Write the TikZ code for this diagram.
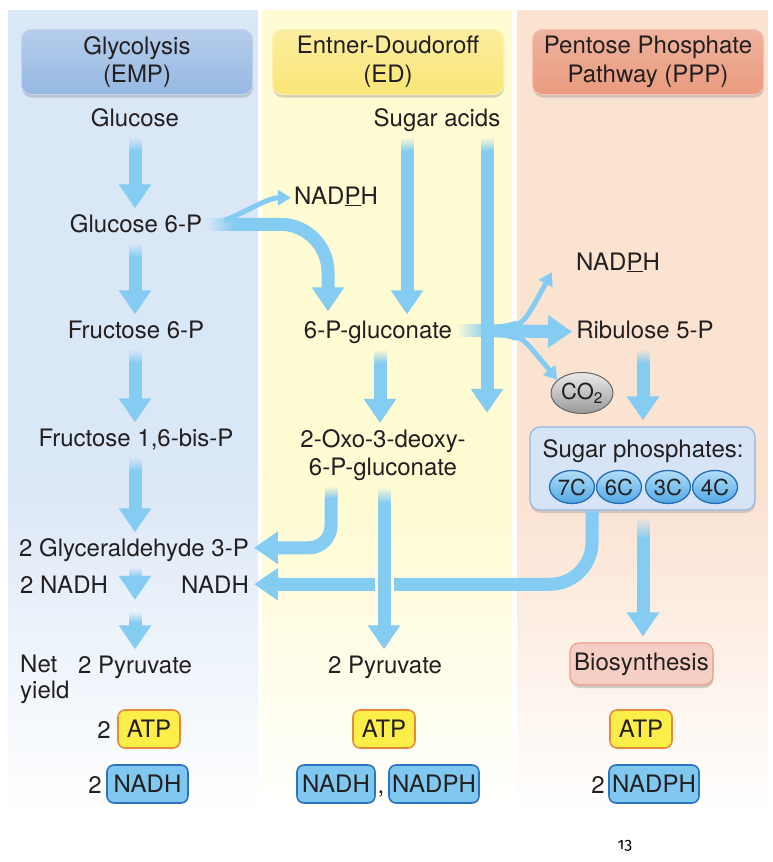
\documentclass[tikz,border=0pt]{standalone}
\usepackage{fontspec}
\setmainfont{TeX Gyre Heros}
\newfontfamily\pgfont[Numbers=OldStyle]{Fira Sans}
\usetikzlibrary{arrows.meta,shadows,calc,fadings,shapes.geometric}
\definecolor{arr}{RGB}{132,204,242}
\definecolor{bluebg}{RGB}{218,231,246}
\definecolor{yelbg}{RGB}{255,251,210}
\definecolor{pchbg}{RGB}{251,227,210}
\definecolor{hblue}{RGB}{150,184,226}
\definecolor{hyel}{RGB}{250,230,118}
\definecolor{hsal}{RGB}{234,154,126}
\definecolor{atpfill}{RGB}{252,238,72}
\definecolor{atpdraw}{RGB}{232,138,58}
\definecolor{nadfill}{RGB}{128,200,240}
\definecolor{naddraw}{RGB}{44,116,190}
\definecolor{spfill}{RGB}{214,228,246}
\definecolor{spdraw}{RGB}{150,182,224}
\definecolor{biofill}{RGB}{245,206,196}
\definecolor{biodraw}{RGB}{232,158,138}
\definecolor{ovaltop}{RGB}{178,222,248}
\definecolor{ovalbot}{RGB}{80,168,228}
\definecolor{ovaldraw}{RGB}{40,108,180}
\definecolor{txt}{RGB}{35,31,32}
\newcommand\fs{\fontsize{24}{28.5}\selectfont}
\newcommand\fsm{\fontsize{22}{26}\selectfont}
\newcommand\colarrow[4][14]{%
  \path ($(#2.south -| #4)+(0,6)$) coordinate (tmpS)
        ($(#3.north -| #4)+(0,-6)$) coordinate (tmpE);
  \fill[arr,path fading=north] ($(tmpS)+(-6.5,0)$) rectangle ($(tmpS)+(6.5,#1)$);
  \draw[bigarrow] ($(tmpS)+(0,#1-0.5)$) -- (tmpE);}
\begin{document}
\begin{tikzpicture}[x=1pt,y=-1pt,
  lbl/.style={font=\fs, text=txt, inner sep=0pt, text height=17.5pt, text depth=5pt, anchor=base},
  lbl2/.style={font=\fs, text=txt, inner sep=0pt, align=center},
  header/.style={font=\fs, text=txt, align=center, rounded corners=10pt, minimum width=231pt,
    minimum height=65pt, inner sep=0pt, line width=1pt,
    drop shadow={opacity=0.35,shadow xshift=0.5pt,shadow yshift=-3pt}},
  atpbox/.style={font=\fs, text=txt, fill=atpfill, draw=atpdraw, line width=1.6pt,
    rounded corners=7pt, minimum height=38pt, minimum width=62pt, inner xsep=2pt,
    text height=17.5pt, text depth=0pt},
  nadbox/.style={font=\fs, text=txt, fill=nadfill, draw=naddraw, line width=1.6pt,
    rounded corners=7pt, minimum height=38pt, inner xsep=2pt,
    text height=17.5pt, text depth=0pt},
  bigarrow/.style={arr, line width=13pt, -{Triangle[width=31pt,length=24pt]}},
  thinarrow/.style={arr, line width=5pt, -{Triangle[width=15pt,length=13pt]}},
  oval/.style={ellipse, draw=ovaldraw, line width=1.3pt, top color=ovaltop, bottom color=ovalbot,
    minimum width=45pt, minimum height=33pt, inner sep=0pt, font=\fsm, text=txt},
  co2/.style={ellipse, draw=black!60, line width=1pt, top color=black!8, bottom color=black!40,
    minimum width=62pt, minimum height=41pt, inner sep=0pt, font=\fsm, text=txt},
  spbox/.style={fill=spfill, draw=spdraw, line width=1.2pt, rounded corners=10pt,
    minimum width=225pt, minimum height=83pt,
    drop shadow={opacity=0.3,shadow xshift=0.5pt,shadow yshift=-3pt}},
  biobox/.style={font=\fs, text=txt, fill=biofill, draw=biodraw, line width=1.2pt,
    rounded corners=9pt, minimum width=143pt, minimum height=42pt, inner sep=0pt,
    text height=17.5pt, text depth=5pt,
    drop shadow={opacity=0.35,shadow xshift=0.5pt,shadow yshift=-3pt}},
]
\useasboundingbox (0,0) rectangle (772,862);
\fill[white] (0,0) rectangle (772,862);
% column backgrounds
\fill[bluebg] (8,10) rectangle (258,470);
\shade[top color=bluebg, bottom color=white] (8,469.5) rectangle (258,812);
\fill[yelbg] (262,10) rectangle (512,500);
\shade[top color=yelbg, bottom color=white] (262,499.5) rectangle (512,812);
\fill[pchbg] (517,10) rectangle (768,500);
\shade[top color=pchbg, bottom color=white] (517,499.5) rectangle (768,812);

% column x coordinates
\coordinate (c1) at (135,0);
\coordinate (c2s) at (407,0);
\coordinate (c2l) at (487,0);
\coordinate (c2m) at (380,0);
\coordinate (c2b) at (384,0);
\coordinate (c2g) at (331,0);
\coordinate (c2c) at (328,0);
\coordinate (c3m) at (643,0);
\coordinate (c3n) at (592,0);

% headers
\node[header, top color=hblue!70!white, bottom color=hblue, draw=hblue!60!white] (h1) at (137,62) {Glycolysis\\(EMP)};
\node[header, top color=hyel!70!white, bottom color=hyel, draw=hyel!60!white] (h2) at (388,62) {Entner-Doudoroff\\(ED)};
\node[header, top color=hsal!75!white, bottom color=hsal, draw=hsal!60!white] (h3) at (648,62) {Pentose Phosphate\\Pathway (PPP)};

% column 1 nodes
\node[lbl] (glc) at (135,126) {Glucose};
\node[lbl] (g6p) at (136,232) {Glucose 6-P};
\node[lbl] (f6p) at (136,338) {Fructose 6-P};
\node[lbl] (f16) at (136,446) {Fructose 1,6-bis-P};
\node[lbl] (g3p) at (134,556) {2 Glyceraldehyde 3-P};
\node[lbl] (nadh2) at (64,593) {2 NADH};
\node[lbl] (nadhL) at (215,593) {NADH};
\node[inner sep=0pt, minimum size=0pt] (mid1) at (135,606) {};
\node[lbl] (pyr1) at (135,673) {2 Pyruvate};
\node[lbl, anchor=base west] (net) at (20,672) {Net};
\node[lbl, anchor=base west] (yield) at (20,698) {yield};

% column 2 nodes
\node[lbl] (sa) at (437,126) {Sugar acids};
\node[lbl] (nadph1) at (336,204) {NAD\underline{P}H};
\node[lbl] (gluc) at (378,338) {6-P-gluconate};
\node[lbl2] (oxo) at (383,455) {2-Oxo-3-deoxy-\\6-P-gluconate};
\node[inner sep=0pt, minimum size=0pt] (sabyp) at (487,419) {};
\node[lbl] (pyr2) at (385,673) {2 Pyruvate};

% column 3 nodes
\node[lbl] (nadph2) at (618,270) {NAD\underline{P}H};
\node[lbl] (rib) at (645,338) {Ribulose 5-P};
\node[co2] (co2) at (582,393) {CO\textsubscript{2}};
\node[spbox] (sp) at (642.5,468.5) {};
\node[lbl] (sptxt) at (643,457) {Sugar phosphates:};
\node[oval] (o7) at (572,487) {7C};
\node[oval] (o6) at (619,487) {6C};
\node[oval] (o3) at (668,487) {3C};
\node[oval] (o4) at (715,487) {4C};
\node[biobox] (bio) at (641.5,664) {Biosynthesis};

% net yield boxes
\node[lbl] (two1) at (104,738) {2};
\node[atpbox] (atp1) at (149,729) {ATP};
\node[lbl] (two2) at (95,793) {2};
\node[nadbox, minimum width=81pt] (nad1) at (147.5,784) {NADH};
\node[atpbox] (atp2) at (384,729) {ATP};
\node[nadbox, minimum width=78pt] (nad2) at (336,784) {NADH};
\node[lbl] (comma) at (381,793) {,};
\node[nadbox, minimum width=90pt] (nadp2) at (434,784) {NADPH};
\node[atpbox] (atp3) at (641,729) {ATP};
\node[lbl] (two3) at (598,793) {2};
\node[nadbox, minimum width=90pt] (nadp3) at (654,784) {NADPH};

\node[font=\pgfont\fontsize{16}{18}\selectfont, text=black, inner sep=0pt] (pg) at (625,846) {13};

% glycolysis arrows
\colarrow{glc}{g6p}{c1}
\colarrow{g6p}{f6p}{c1}
\colarrow{f6p}{f16}{c1}
\colarrow{f16}{g3p}{c1}
\colarrow[10]{g3p}{mid1}{c1}
\colarrow[10]{mid1}{pyr1}{c1}

% glucose 6-P to 6-P-gluconate and NADPH
\path ($(g6p.east)+(4,-1.5)$) coordinate (g6pS);
\fill[arr, path fading=west] ($(g6pS)+(0,-6.5)$) rectangle ($(g6pS)+(28,6.5)$);
\draw[bigarrow, rounded corners=48pt] ($(g6pS)+(27.5,0)$) -| ($(gluc.north -| c2c)+(0,-9)$);
\draw[thinarrow] ($(g6pS)+(18,-4)$) .. controls +(18,-6) and +(-24,0) .. ($(nadph1.west)+(-3,0)$);

% ED arrows
\colarrow{sa}{gluc}{c2s}
\colarrow{gluc}{oxo}{c2m}

% 6-P-gluconate to PPP
\path ($(gluc.east)+(5,-1)$) coordinate (gS);
\fill[arr, path fading=west] ($(gS)+(0,-6.5)$) rectangle ($(gS)+(30,6.5)$);
\draw[bigarrow] ($(gS)+(29.5,0)$) -- ($(rib.west)+(-4,0)$);
\fill[arr] ($(gS)+(40,-6.5)$) .. controls +(10,0) and +(-4,0) .. ($(gS)+(60,-10)$) -- ($(gS)+(60,10)$) .. controls +(-4,0) and +(10,0) .. ($(gS)+(40,6.5)$) -- cycle;
\draw[thinarrow] ($(gS)+(56,-4)$) .. controls +(12,-6) .. ($(nadph2.south west)+(-24,-3)$);
\draw[thinarrow] ($(gS)+(56,4)$) .. controls +(12,6) .. (co2.152);

\colarrow{sa}{sabyp}{c2l}

% oxo to glyceraldehyde 3-P
\path ($(oxo.south -| c2g)+(0,5)$) coordinate (oS);
\fill[arr, path fading=north] ($(oS)+(-6.5,0)$) rectangle ($(oS)+(6.5,12)$);
\draw[bigarrow, rounded corners=22pt] ($(oS)+(0,11.5)$) |- ($(g3p.east)+(5,-2)$);

% sugar phosphates to NADH
\draw[bigarrow, rounded corners=42pt] (sp.south -| c3n) |- ($(nadhL.east)+(5,-2.5)$);
\fill[yelbg!70!white] (374.5,576) rectangle (393.5,592.5);
\colarrow[16]{oxo}{pyr2}{c2b}

% PPP arrows
\colarrow{rib}{sp}{c3m}
\colarrow[22]{sp}{bio}{c3m}
\end{tikzpicture}
\end{document}
